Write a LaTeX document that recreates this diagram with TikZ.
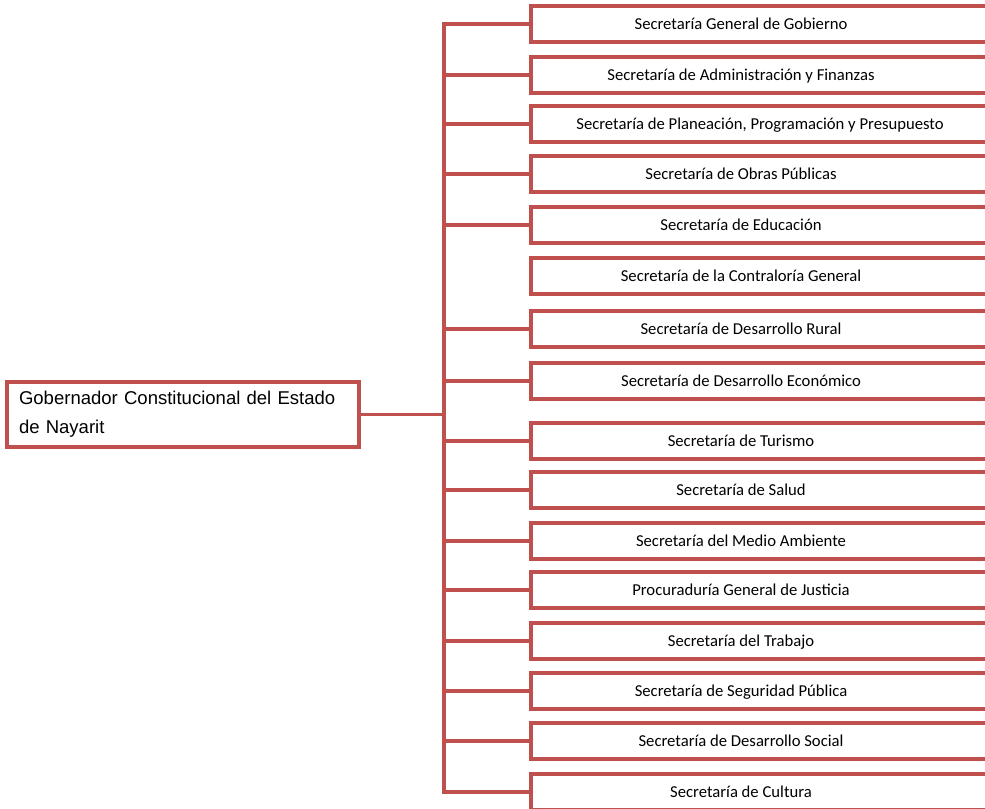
\documentclass[tikz,border=0pt]{standalone}
\usepackage{fontspec}
\setmainfont{Liberation Sans}
\newfontfamily\carlfont{Carlito}
\definecolor{orgred}{HTML}{C0504D}
\begin{document}
\begin{tikzpicture}[x=0.75pt,y=-0.75pt,
  secbox/.style={draw=orgred,line width=2.5pt,rectangle,inner sep=0pt,
    minimum width=360pt,minimum height=27pt},
  sectext/.style={inner sep=0pt,anchor=base,font=\carlfont\fontsize{12.5}{15}\selectfont},
  govbox/.style={draw=orgred,line width=2.5pt,rectangle,inner xsep=9pt,inner ysep=0pt,
    minimum width=264pt,minimum height=48.75pt,text width=246pt,align=left,
    font=\fontsize{13.9}{21.75}\selectfont},
  conn/.style={draw=orgred,line width=2.6pt,line cap=rect}]
\useasboundingbox (0,0) rectangle (985,809);

\node[govbox] (gov) at (183,414.5) {Gobernador Constitucional del Estado de Nayarit};

\coordinate (ttop) at (444,24);
\coordinate (tbot) at (444,792);

\foreach \i/\y/\t/\tx in {
  1/24/{Secretaría General de Gobierno}/741,
  2/75/{Secretaría de Administración y Finanzas}/741,
  3/124/{Secretaría de Planeación, Programación y Presupuesto}/760,
  4/174/{Secretaría de Obras Públicas}/741,
  5/225/{Secretaría de Educación}/741,
  6/276/{Secretaría de la Contraloría General}/741,
  7/329/{Secretaría de Desarrollo Rural}/741,
  8/381/{Secretaría de Desarrollo Económico}/741,
  9/441/{Secretaría de Turismo}/741,
  10/490/{Secretaría de Salud}/741,
  11/541/{Secretaría del Medio Ambiente}/741,
  12/590/{Procuraduría General de Justicia}/741,
  13/641/{Secretaría del Trabajo}/741,
  14/691/{Secretaría de Seguridad Pública}/741,
  15/741/{Secretaría de Desarrollo Social}/741,
  16/792/{Secretaría de Cultura}/741}{
  \node[secbox] (s\i) at (771,\y) {};
  \node[sectext] (t\i) at (\tx,\y+5.5) {\t};
}

\draw[conn] (ttop) -- (tbot);
\draw[conn] (gov.east) -- (gov.east -| ttop);
\foreach \i in {1,2,3,4,5,7,8,9,10,11,12,13,14,15,16}{
  \draw[conn] (s\i.west -| ttop) -- (s\i.west);
}
\end{tikzpicture}
\end{document}
